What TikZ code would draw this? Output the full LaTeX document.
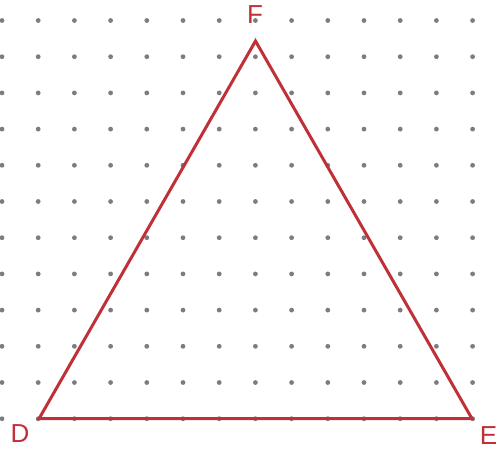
\documentclass[tikz,border=0pt]{standalone}
\usepackage{fontspec}
\setmainfont{Liberation Sans}
\begin{document}
\begin{tikzpicture}[x=1pt,y=-1pt,
  gdot/.style={fill=dotgray,draw=none},
  side/.style={draw=tri,line width=3pt,line join=miter},
  lbl/.style={text=tri,font=\fontsize{26}{26}\selectfont,inner sep=0pt}]
\definecolor{dotgray}{RGB}{125,125,125}
\definecolor{tri}{RGB}{192,48,56}
\useasboundingbox (0,0) rectangle (497,450);
\fill[white] (0,0) rectangle (497,450);
\foreach \i in {0,...,13}{
  \foreach \j in {0,...,11}{
    \fill[gdot] ({2+36.2*\i},{20.5+36.2*\j}) circle (2.4);
  }
}
\coordinate (D) at (39,418.7);
\coordinate (E) at (472,418.7);
\coordinate (F) at (255.5,41);
\draw[side] (D) -- (E) -- (F) -- cycle;
\node[lbl] (lF) at (255,15) {F};
\node[lbl] (lD) at (20,433.5) {D};
\node[lbl] (lE) at (488.5,436) {E};
\end{tikzpicture}
\end{document}
